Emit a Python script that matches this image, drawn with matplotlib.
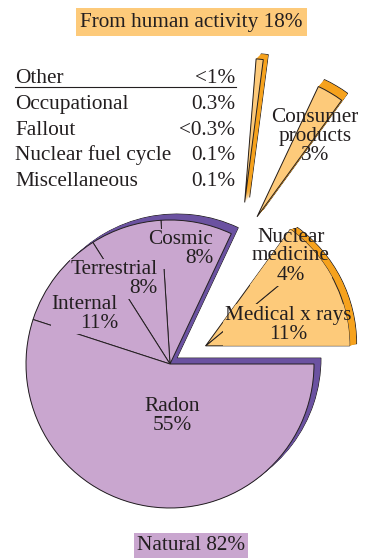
import numpy as np
import matplotlib.pyplot as plt
from matplotlib.patches import Wedge

plt.rcParams['font.family'] = ['Liberation Serif', 'DejaVu Serif']
plt.rcParams['text.color'] = '#231f20'

# annual dose shares, percent
natural_names = ['Cosmic', 'Terrestrial', 'Internal', 'Radon']
natural_values = [8, 8, 11, 55]
human_names = ['Medical x rays', 'Nuclear\nmedicine', 'Consumer\nproducts']
human_values = [11, 4, 3]
other_names = ['Occupational', 'Fallout', 'Nuclear fuel cycle', 'Miscellaneous']
other_shares = ['0.3%', '<0.3%', '0.1%', '0.1%']
other_values = [0.3, 0.3, 0.1, 0.1]

purple = '#c9a6cf'
purple_dark = '#6b52a1'
orange = '#fdca7a'
orange_dark = '#f6a21d'
ink = '#231f20'
FS = 15.3

W, H = 368, 558
fig = plt.figure(figsize=(W / 100, H / 100), dpi=100)
ax = fig.add_axes([0, 0, 1, 1])
ax.set_xlim(0, W)
ax.set_ylim(0, H)
ax.set_aspect('equal')
ax.axis('off')


def P(x, y):
    # layout positions are given from the top-left corner
    return np.array([x, H - y], dtype=float)


C = P(170, 364)
R = 144
DEG = 3.6


def unit(a):
    a = np.radians(a)
    return np.array([np.cos(a), np.sin(a)])


def extrude(center, t1, t2, off, color, z):
    for i, k in enumerate(np.linspace(1, 0, 16)):
        ax.add_patch(Wedge(center + k * np.asarray(off), R, t1, t2, fc=color,
                           ec=ink if i == 0 else 'none', lw=0.6, zorder=z))


# natural sources: solid pie from the end of the human share round to 0 deg
h_edges = np.cumsum([0] + human_values) * DEG
n_edges = h_edges[-1] + np.cumsum([0] + natural_values) * DEG
extrude(C, n_edges[0], n_edges[-1], (7, 6), purple_dark, 1)
for t1, t2 in zip(n_edges[:-1], n_edges[1:]):
    ax.add_patch(Wedge(C, R, t1, t2, fc=purple, ec=ink, lw=0.7, zorder=3))

n_pos = [P(213, 249), P(158, 279), P(118, 314), P(172, 416)]
n_ha = ['right', 'right', 'right', 'center']
for name, v, xy, ha in zip(natural_names, natural_values, n_pos, n_ha):
    ax.text(*xy, f'{name}\n{v}%', ha=ha, va='center', multialignment=ha,
            fontsize=FS, linespacing=1.0, zorder=6,
            bbox=dict(boxstyle='square,pad=0.05', fc=purple, ec='none'))

# human activity: medical + nuclear medicine pulled out as one block
g1, g2 = h_edges[0], h_edges[2]
apex = C + 40 * unit((g1 + g2) / 2)
extrude(apex, g1, g2, (7, 2), orange_dark, 1)
for t1, t2 in zip(h_edges[:2], h_edges[1:3]):
    ax.add_patch(Wedge(apex, R, t1, t2, fc=orange, ec=ink, lw=0.7, zorder=3))
block = Wedge(apex, R, g1, g2, transform=ax.transData)

# consumer products pulled further out
c1, c2 = h_edges[2], h_edges[3]
capex = C + 171 * unit((c1 + c2) / 2)
extrude(capex, c1, c2, (6, 7), orange_dark, 1)
ax.add_patch(Wedge(capex, R, c1, c2, fc=orange, ec=ink, lw=0.7, zorder=3))

# the "other" sliver, tilted on its own
ow = sum(other_values) * DEG
oapex = C + 178 * unit(65.2)
extrude(oapex, 84 - ow / 2, 84 + ow / 2, (5, 5), orange_dark, 1)
ax.add_patch(Wedge(oapex, R, 84 - ow / 2, 84 + ow / 2, fc=orange, ec=ink,
                   lw=0.7, zorder=3))

h_pos = [P(288, 325), P(291, 256), P(315, 136)]
for i, (name, v, xy) in enumerate(zip(human_names, human_values, h_pos)):
    t = ax.text(*xy, f'{name}\n{v}%', ha='center', va='center',
                multialignment='center', fontsize=FS, linespacing=1.0, zorder=6)
    if i < 2:
        # hide the slice border under the label, but only inside the block
        t.set_bbox(dict(boxstyle='square,pad=0.08', fc=orange, ec='none'))
        bp = t.get_bbox_patch()
        bp.set_clip_path(block)
        bp.set_clip_on(True)

# breakdown of the "other" share
ax.text(*P(15, 83), 'Other', ha='left', va='baseline', fontsize=FS)
ax.text(*P(235, 83), f'<{round(sum(other_values)) or 1}%', ha='right',
        va='baseline', fontsize=FS)
ax.plot(*zip(P(15, 87), P(236, 87)), color=ink, lw=0.8)
for i, (name, s) in enumerate(zip(other_names, other_shares)):
    y = 109 + i * 25.7
    ax.text(*P(15, y), name, ha='left', va='baseline', fontsize=FS)
    ax.text(*P(235, y), s, ha='right', va='baseline', fontsize=FS)

ax.text(*P(191, 22), f'From human activity {sum(human_values)}%', ha='center',
        va='center', fontsize=FS,
        bbox=dict(boxstyle='square,pad=0.2', fc=orange, ec='none'))
ax.text(*P(191, 546), f'Natural {sum(natural_values)}%', ha='center',
        va='center', fontsize=FS,
        bbox=dict(boxstyle='square,pad=0.15', fc=purple, ec='none'))

fig.savefig('out.png', dpi=100)
